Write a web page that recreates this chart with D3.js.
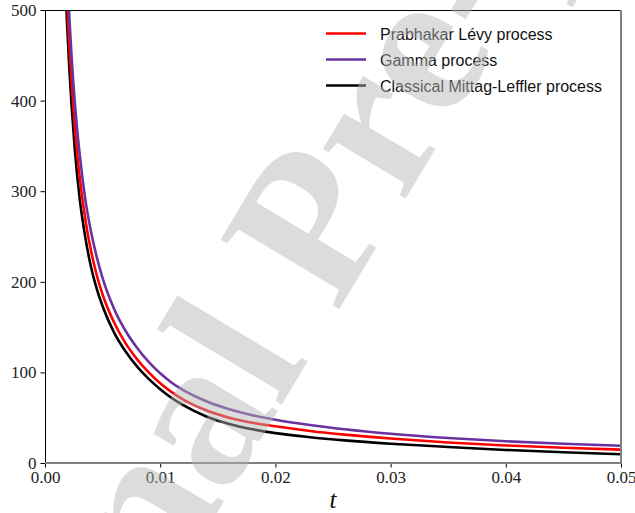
<!DOCTYPE html>
<html>
<head>
<meta charset="utf-8">
<script src="https://cdn.jsdelivr.net/npm/d3@7"></script>
<style>
  body { margin: 0; background: #fff; }
  svg { display: block; }
</style>
</head>
<body>
<svg id="svg"></svg>
<script>
// sampled t values (shared by the three curves)
var tValues = [0.0017, 0.0019, 0.0021, 0.0023, 0.0026, 0.003, 0.0035, 0.004, 0.0045, 0.005,
	0.006, 0.007, 0.008, 0.009, 0.01, 0.011, 0.012, 0.014, 0.016, 0.018,
	0.02, 0.023, 0.026, 0.03, 0.035, 0.04, 0.045, 0.05];

// curve values
var prabhakarValues = [579, 516, 464, 422, 369, 317, 269, 234, 207, 186,
	155, 132, 114.4, 100, 88, 78.2, 70, 58.2, 50, 44.4,
	40.5, 35.4, 31.3, 27, 22.7, 19.4, 16.8, 14.7];
var gammaValues = [618, 550, 495, 450, 396, 342, 291, 255, 227, 204,
	170, 145.7, 127, 111.7, 99, 88.6, 80.4, 68.2, 59.4, 52.8,
	47.8, 42, 37.3, 32.3, 27.6, 24, 21.3, 19.1];
var mittagValues = [553, 489, 438, 396, 344, 293, 249, 216, 192, 173,
	144, 123, 106.3, 92.8, 81.5, 71.8, 63.8, 51.4, 43.1, 37.2,
	33, 28.5, 25, 21.3, 17.7, 14.4, 11.8, 9.6];

var seriesNames = ["Prabhakar Lévy process", "Gamma process", "Classical Mittag-Leffler process"];
var seriesColors = ["#ff0000", "#6a32a0", "#000000"];

var xTicks = [0, 0.01, 0.02, 0.03, 0.04, 0.05];
var yTicks = [0, 100, 200, 300, 400, 500];

var width = 635;
var height = 513;
// plot box (don't call these top/left, window.top is read-only)
var plotLeft = 45, plotRight = 621, plotTop = 10, plotBottom = 463;

var svg = d3.select("#svg")
	.attr("width", width)
	.attr("height", height);

var x = d3.scaleLinear().domain([0, 0.05]).range([plotLeft, plotRight]);
var y = d3.scaleLinear().domain([0, 500]).range([plotBottom, plotTop]);

svg.append("clipPath")
	.attr("id", "plotclip")
	.append("rect")
	.attr("x", plotLeft)
	.attr("y", plotTop)
	.attr("width", plotRight - plotLeft)
	.attr("height", plotBottom - plotTop);

var series = [prabhakarValues, gammaValues, mittagValues].map(function(vals, i) {
	return {
		name: seriesNames[i],
		color: seriesColors[i],
		points: tValues.map(function(t, j) { return [t, vals[j]]; })
	};
});

var line = d3.line()
	.x(function(d) { return x(d[0]); })
	.y(function(d) { return y(d[1]); })
	.curve(d3.curveMonotoneX);

// curves, drawn back to front like the original
var g = svg.append("g").attr("clip-path", "url(#plotclip)");
[2, 0, 1].forEach(function(i) {
	g.append("path")
		.attr("fill", "none")
		.attr("stroke", series[i].color)
		.attr("stroke-width", 2.6)
		.attr("d", line(series[i].points));
});

// axes
var xAxis = d3.axisBottom(x).tickValues(xTicks).tickFormat(d3.format(".2f")).tickSize(4.5).tickPadding(3);
var yAxis = d3.axisLeft(y).tickValues(yTicks).tickFormat(d3.format("d")).tickSize(4.5).tickPadding(4);

var gx = svg.append("g").attr("transform", "translate(0," + plotBottom + ")").call(xAxis);
var gy = svg.append("g").attr("transform", "translate(" + plotLeft + ",0)").call(yAxis);
[gx, gy].forEach(function(ax) {
	ax.select(".domain").remove();
	ax.selectAll("line").attr("stroke", "#000").attr("stroke-width", 1);
	ax.selectAll("text")
		.attr("fill", "#222")
		.style("font-family", "'Liberation Serif', 'DejaVu Serif', serif")
		.style("font-size", "17px");
});

// spines
svg.append("line").attr("x1", plotLeft).attr("x2", plotRight).attr("y1", plotTop + 0.5).attr("y2", plotTop + 0.5)
	.attr("stroke", "#000").attr("stroke-width", 1);
svg.append("line").attr("x1", plotLeft + 0.5).attr("x2", plotLeft + 0.5).attr("y1", plotTop).attr("y2", plotBottom)
	.attr("stroke", "#000").attr("stroke-width", 1);
svg.append("line").attr("x1", plotLeft).attr("x2", plotRight + 1).attr("y1", plotBottom).attr("y2", plotBottom)
	.attr("stroke", "#7f7f7f").attr("stroke-width", 2);
svg.append("line").attr("x1", plotRight).attr("x2", plotRight).attr("y1", plotTop).attr("y2", plotBottom)
	.attr("stroke", "#7f7f7f").attr("stroke-width", 2);

// x label
svg.append("text")
	.attr("x", 333)
	.attr("y", 508)
	.attr("text-anchor", "middle")
	.style("font-family", "'Liberation Serif', 'DejaVu Serif', serif")
	.style("font-style", "italic")
	.style("font-size", "25px")
	.attr("fill", "#111")
	.text("t");

// legend
var legend = svg.append("g").attr("transform", "translate(326,33.5)");
series.forEach(function(s, i) {
	var row = legend.append("g").attr("transform", "translate(0," + (i * 26) + ")");
	row.append("line")
		.attr("x1", 0).attr("x2", 40)
		.attr("stroke", s.color)
		.attr("stroke-width", 2.6);
	row.append("text")
		.attr("x", 54)
		.attr("y", 6)
		.style("font-family", "'Liberation Sans', Arial, sans-serif")
		.style("font-size", "16px")
		.attr("fill", "#111")
		.text(s.name);
});

// "Journal Pre-proof" watermark sits on top of everything
// anchored at the foot of the "P"; 3.584em is the bold advance of "Journal "
var wmSize = 210;
svg.append("text")
	.attr("transform", "translate(336.7,313.3) rotate(-59)")
	.attr("x", -3.584 * wmSize)
	.attr("y", 0)
	.style("font-family", "'Liberation Serif', 'Times New Roman', serif")
	.style("font-weight", "bold")
	.style("font-size", wmSize + "px")
	.attr("fill", "rgb(180,180,180)")
	.attr("fill-opacity", 0.47)
	.text("Journal Pre-proof");
</script>
</body>
</html>
